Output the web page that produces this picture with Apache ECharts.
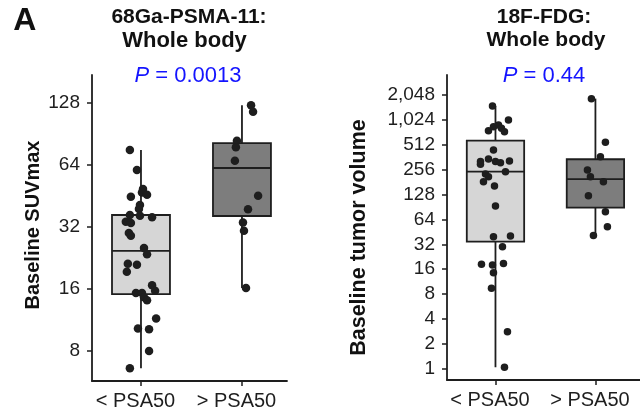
<!DOCTYPE html>
<html lang="en">
<head>
  <meta charset="UTF-8">
  <title>PSMA vs FDG baseline</title>
  <style>
    html, body { margin: 0; padding: 0; background: #fff; }
    #myChart { width: 640px; height: 414px; }
  </style>
  <script src="https://cdn.jsdelivr.net/npm/echarts@6.0.0/dist/echarts.min.js"></script>
</head>
<body>
<div id="myChart"></div>
<script>
// values
var categories = ['< PSA50', '> PSA50'];
var suvTicks = [8, 16, 32, 64, 128];
var volTicks = [1, 2, 4, 8, 16, 32, 64, 128, 256, 512, 1024, 2048];

// [min, Q1, median, Q3, max] per group
var suvBox = [[6.6, 15.1, 24.5, 36.6, 75.6], [16.2, 36.2, 61.9, 81.8, 125]];
var volBox = [[1.04, 34.4, 242, 574, 1509], [41, 88.7, 197, 342, 1850]];

// [group position + jitter, value]
var suvLow = [[-0.11, 75.6], [-0.04, 60.5], [0.02, 48.9], [0.01, 47.1], [0.06, 45.9], [-0.10, 44.9],
  [-0.01, 40.9], [-0.02, 39.1], [-0.11, 36.6], [-0.01, 36.3], [0.11, 35.7], [-0.15, 33.9], [-0.10, 33.5],
  [-0.12, 29.9], [-0.10, 29.0], [0.03, 25.3], [0.06, 23.6], [-0.13, 21.2], [-0.04, 21.0], [-0.14, 19.4],
  [0.11, 16.7], [0.14, 15.7], [-0.05, 15.3], [0.01, 15.3], [0.03, 14.6], [0.06, 14.1], [0.15, 11.5],
  [-0.03, 10.3], [0.08, 10.2], [0.08, 8.0], [-0.11, 6.6]];
var suvHigh = [[1.09, 125], [1.11, 116.1], [0.95, 84.0], [0.94, 78.0], [0.93, 67.1], [1.16, 45.4],
  [1.06, 39.0], [1.01, 33.7], [1.02, 30.7], [1.04, 16.2]];
var volLow = [[-0.03, 1509], [0.13, 1021], [-0.07, 758], [-0.02, 848], [0.03, 888], [0.06, 810],
  [0.09, 737], [-0.02, 443], [-0.15, 320], [-0.07, 344], [0.0, 320], [0.05, 311], [0.14, 326],
  [-0.15, 297], [0.10, 242], [-0.10, 227], [-0.07, 210], [-0.12, 183], [-0.01, 162], [0.0, 93],
  [-0.02, 39.5], [0.15, 40.3], [0.07, 29.9], [-0.14, 18.3], [-0.03, 18.0], [0.08, 18.8], [-0.02, 14.5],
  [-0.04, 9.4], [0.12, 2.8], [0.09, 1.04]];
var volHigh = [[0.96, 1850], [1.10, 548], [1.05, 367], [0.92, 254], [0.95, 210], [1.08, 183],
  [0.93, 124], [1.10, 79.4], [1.12, 52.3], [0.98, 41]];

var boxFills = ['#d6d6d6', '#7d7d7d'];
var ink = '#1e1e1e';
var font = '"Liberation Sans", Arial, sans-serif';
var boxHalf = 0.287;

function boxRender(params, api) {
  var x = api.value(0);
  var lo = api.coord([x, api.value(1)]);
  var q1 = api.coord([x, api.value(2)]);
  var med = api.coord([x, api.value(3)]);
  var q3 = api.coord([x, api.value(4)]);
  var hi = api.coord([x, api.value(5)]);
  var left = api.coord([x - boxHalf, api.value(3)])[0];
  var right = api.coord([x + boxHalf, api.value(3)])[0];
  var line = { stroke: ink, lineWidth: 1.8 };
  return {
    type: 'group',
    children: [
      { type: 'line', shape: { x1: lo[0], y1: lo[1], x2: hi[0], y2: hi[1] }, style: line },
      { type: 'rect', shape: { x: left, y: q3[1], width: right - left, height: q1[1] - q3[1] },
        style: { fill: boxFills[params.dataIndex], stroke: ink, lineWidth: 1.8 } },
      { type: 'line', shape: { x1: left, y1: med[1], x2: right, y2: med[1] }, style: line }
    ]
  };
}

function xAxisFor(grid) {
  return {
    type: 'value', gridIndex: grid, min: -0.485, max: 1.446,
    axisLine: { show: true, onZero: false, lineStyle: { color: ink, width: 1.8 } },
    axisTick: { show: true, customValues: [0, 1], length: 5, lineStyle: { color: ink, width: 1.5 } },
    axisLabel: {
      customValues: [0, 1], margin: 10, fontSize: 20, color: ink, fontFamily: font,
      padding: [0, 11, 0, 0],
      formatter: function (v) { return categories[Math.round(v)]; }
    },
    splitLine: { show: false }
  };
}

function yAxisFor(grid, min, max, ticks) {
  return {
    type: 'log', logBase: 2, gridIndex: grid, min: min, max: max,
    axisLine: { show: true, onZero: false, lineStyle: { color: ink, width: 1.8 } },
    axisTick: { show: true, customValues: ticks, length: 5, lineStyle: { color: ink, width: 1.5 } },
    axisLabel: {
      customValues: ticks, margin: 12, fontSize: 19, color: ink, fontFamily: font,
      formatter: function (v) { return Math.round(v).toLocaleString('en-US'); }
    },
    splitLine: { show: false }
  };
}

function dots(data, grid, size) {
  return {
    type: 'scatter', xAxisIndex: grid, yAxisIndex: grid, data: data,
    symbolSize: size, itemStyle: { color: ink, opacity: 1 }, z: 5
  };
}

function boxes(stats, grid) {
  return {
    type: 'custom', xAxisIndex: grid, yAxisIndex: grid,
    data: stats.map(function (s, i) { return [i].concat(s); }),
    encode: { x: 0, y: [1, 2, 3, 4, 5] },
    renderItem: boxRender, z: 2
  };
}

function label(text, x, y, size, bold, rot) {
  return {
    type: 'text', x: x, y: y, rotation: rot || 0,
    style: {
      text: text, fill: '#111', font: (bold ? 'bold ' : '') + size + 'px ' + font,
      textAlign: 'center', textVerticalAlign: 'middle'
    }
  };
}

function pLabel(value, x, y) {
  return {
    type: 'text', x: x, y: y,
    style: {
      text: '{i|P} = ' + value, fill: '#1414ff', font: '22px ' + font,
      textAlign: 'center', textVerticalAlign: 'middle',
      rich: { i: { fontStyle: 'italic', fontSize: 22, fontFamily: font, fill: '#1414ff' } }
    }
  };
}

var myChart = echarts.init(document.getElementById('myChart'), null, { renderer: 'canvas' });
var option = {
  animation: false,
  backgroundColor: '#fff',
  grid: [
    { left: 92, top: 75, width: 195, height: 306 },
    { left: 447, top: 75, width: 195, height: 305 }
  ],
  xAxis: [xAxisFor(0), xAxisFor(1)],
  yAxis: [yAxisFor(0, 5.72, 175.1, suvTicks), yAxisFor(1, 0.73, 3573, volTicks)],
  series: [
    boxes(suvBox, 0),
    dots(suvLow, 0, 8.5),
    dots(suvHigh, 0, 8.5),
    boxes(volBox, 1),
    dots(volLow, 1, 7.5),
    dots(volHigh, 1, 7.5)
  ],
  graphic: [
    label('A', 24.7, 21.5, 32, true),
    label('68Ga-PSMA-11:', 189, 17, 21, true),
    label('Whole body', 184.5, 40.5, 22, true),
    pLabel('0.0013', 188, 75.5),
    label('18F-FDG:', 544, 17, 21, true),
    label('Whole body', 546, 40.5, 21, true),
    pLabel('0.44', 544, 75.5),
    label('Baseline SUVmax', 33.5, 225, 20, true, Math.PI / 2),
    label('Baseline tumor volume', 358.7, 237.5, 21.5, true, Math.PI / 2)
  ]
};
myChart.setOption(option);
</script>
</body>
</html>
